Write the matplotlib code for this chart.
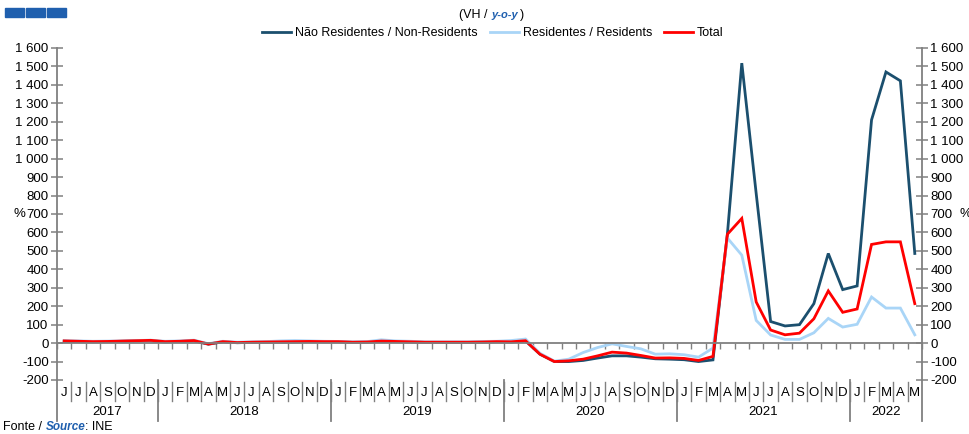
import matplotlib
matplotlib.use("Agg")
import matplotlib.pyplot as plt
from matplotlib.ticker import FixedLocator, FuncFormatter
from matplotlib.lines import Line2D
from matplotlib.patches import Rectangle

plt.rcParams['font.family'] = ['Liberation Sans', 'DejaVu Sans']
plt.rcParams['axes.unicode_minus'] = False

# ---- data ----
month_initials = ['J', 'F', 'M', 'A', 'M', 'J', 'J', 'A', 'S', 'O', 'N', 'D']
start_month = 6   # June 2017
years = ['2017', '2018', '2019', '2020', '2021', '2022']
year_month_counts = [7, 12, 12, 12, 12, 5]

non_residents = [10, 8, 7, 8, 10, 12, 13,
                 6, 9, 12, -6, 7, 2, 4, 5, 5, 6, 8, 7,
                 7, 4, 5, 9, 8, 6, 4, 4, 4, 4, 5, 7,
                 6, 12, -60, -100, -100, -94, -81, -69, -69, -76, -85, -87,
                 -90, -100, -91, 590, 1518, 810, 117, 93, 100, 214, 486, 290,
                 310, 1210, 1470, 1422, 486]
residents = [14, 12, 10, 11, 12, 14, 16,
             10, 12, 16, -3, 10, 5, 7, 8, 12, 14, 12, 10,
             9, 7, 8, 18, 12, 10, 7, 7, 7, 7, 9, 10,
             14, 22, -55, -98, -87, -51, -24, -4, -18, -31, -60, -58,
             -63, -76, -27, 570, 477, 123, 44, 20, 20, 56, 134, 87,
             102, 250, 190, 190, 45]
total = [12, 10, 8, 9, 11, 13, 15,
         8, 10, 14, -5, 8, 3, 5, 6, 7, 8, 9, 8,
         8, 5, 6, 11, 9, 7, 5, 5, 5, 5, 6, 8,
         7, 13, -60, -100, -96, -87, -69, -49, -54, -67, -81, -80,
         -83, -94, -72, 590, 676, 223, 71, 45, 54, 132, 283, 167,
         185, 535, 549, 549, 214]

series_names = ['Não Residentes / Non-Residents', 'Residentes / Residents', 'Total']
colors = ['#1b4f6e', '#a9d5f7', '#ff0000']

n = len(total)
month_labels = [month_initials[(start_month - 1 + i) % 12] for i in range(n)]
x = list(range(n))

fig = plt.figure(figsize=(9.7, 4.34), dpi=100)
ax = fig.add_axes([57 / 970, 1 - 380 / 434, (922 - 57) / 970, (380 - 48) / 434])

for vals, c, name in zip([non_residents, residents, total], colors, series_names):
    ax.plot(x, vals, color=c, lw=2.0, label=name, solid_joinstyle='miter')

ax.set_xlim(-0.5, n - 0.5)
ax.set_ylim(-200, 1600)

axis_col = '#808080'
for s in ['top', 'right']:
    ax.spines[s].set_visible(False)
ax.spines['left'].set_color(axis_col)
ax.spines['left'].set_linewidth(1.3)
ax.spines['bottom'].set_position(('data', 0))
ax.spines['bottom'].set_color(axis_col)
ax.spines['bottom'].set_linewidth(1.3)

yt = list(range(-200, 1601, 100))
fmt = FuncFormatter(lambda v, p: f"{int(v):,}".replace(',', ' '))
ax.yaxis.set_major_locator(FixedLocator(yt))
ax.yaxis.set_major_formatter(fmt)
ax.tick_params(axis='y', direction='inout', length=8, width=1.1, color=axis_col,
               labelsize=9.5, pad=2)

ax.xaxis.set_major_locator(FixedLocator([]))
ax.xaxis.set_minor_locator(FixedLocator([i + 0.5 for i in range(-1, n)]))
ax.tick_params(axis='x', which='minor', direction='out', length=4, width=1.0, color=axis_col)

ax2 = ax.twinx()
ax2.set_ylim(-200, 1600)
for s in ['top', 'left', 'bottom']:
    ax2.spines[s].set_visible(False)
ax2.spines['right'].set_color(axis_col)
ax2.spines['right'].set_linewidth(1.3)
ax2.yaxis.set_major_locator(FixedLocator(yt))
ax2.yaxis.set_major_formatter(fmt)
ax2.tick_params(axis='y', direction='inout', length=8, width=1.1, color=axis_col,
                labelsize=9.5, pad=2)

# % labels
ax.annotate('%', xy=(0, 700), xycoords=('figure pixels', 'data'), xytext=(13, 0),
            textcoords='offset pixels', ha='left', va='center', fontsize=9.5)
ax.annotate('%', xy=(0, 700), xycoords=('figure pixels', 'data'), xytext=(959, 0),
            textcoords='offset pixels', ha='left', va='center', fontsize=9.5)

# month labels and separators
trans = ax.get_xaxis_transform()
ax_h = 332.0
def yf(py):
    return -(py - 380) / ax_h

for i, lab in enumerate(month_labels):
    ax.text(i, yf(393), lab, transform=trans, ha='center', va='center', fontsize=9.5)
for i in range(n - 1):
    ax.add_line(Line2D([i + 0.5, i + 0.5], [yf(382), yf(401)], transform=trans,
                       color=axis_col, lw=1.0, clip_on=False))
pos = -0.5
bounds = [pos]
for cnt in year_month_counts:
    pos += cnt
    bounds.append(pos)
for b in bounds:
    ax.add_line(Line2D([b, b], [0, yf(421)], transform=trans,
                       color=axis_col, lw=1.3, clip_on=False))
for yr, a, b in zip(years, bounds[:-1], bounds[1:]):
    ax.text((a + b) / 2, yf(412), yr, transform=trans, ha='center', va='center', fontsize=9.5)

# legend
ax.legend(loc='center', bbox_to_anchor=(493 / 970, 1 - 33 / 434), bbox_transform=fig.transFigure,
          ncol=3, frameon=False, fontsize=9, handlelength=2.3, handletextpad=0.3,
          columnspacing=1.0)

# header
blue = '#1f5fae'
for k in range(3):
    fig.patches.append(Rectangle(((5 + k * 21) / 970, 1 - 17 / 434), 19 / 970, 9 / 434,
                                 transform=fig.transFigure, color=blue))
fig.text(488 / 970, 1 - 15 / 434, '(VH /', ha='right', va='center', fontsize=9)
fig.text(491 / 970, 1 - 15 / 434, 'y-o-y', ha='left', va='center', fontsize=8,
         color=blue, fontweight='bold', fontstyle='italic')
fig.text(520 / 970, 1 - 15 / 434, ')', ha='left', va='center', fontsize=9)

# source
fig.text(3 / 970, 1 - 427 / 434, 'Fonte /', ha='left', va='center', fontsize=9)
fig.text(46 / 970, 1 - 427 / 434, 'Source', ha='left', va='center', fontsize=8.5,
         color=blue, fontweight='bold', fontstyle='italic')
fig.text(85 / 970, 1 - 427 / 434, ': INE', ha='left', va='center', fontsize=9)

fig.savefig('out.png', dpi=100)
